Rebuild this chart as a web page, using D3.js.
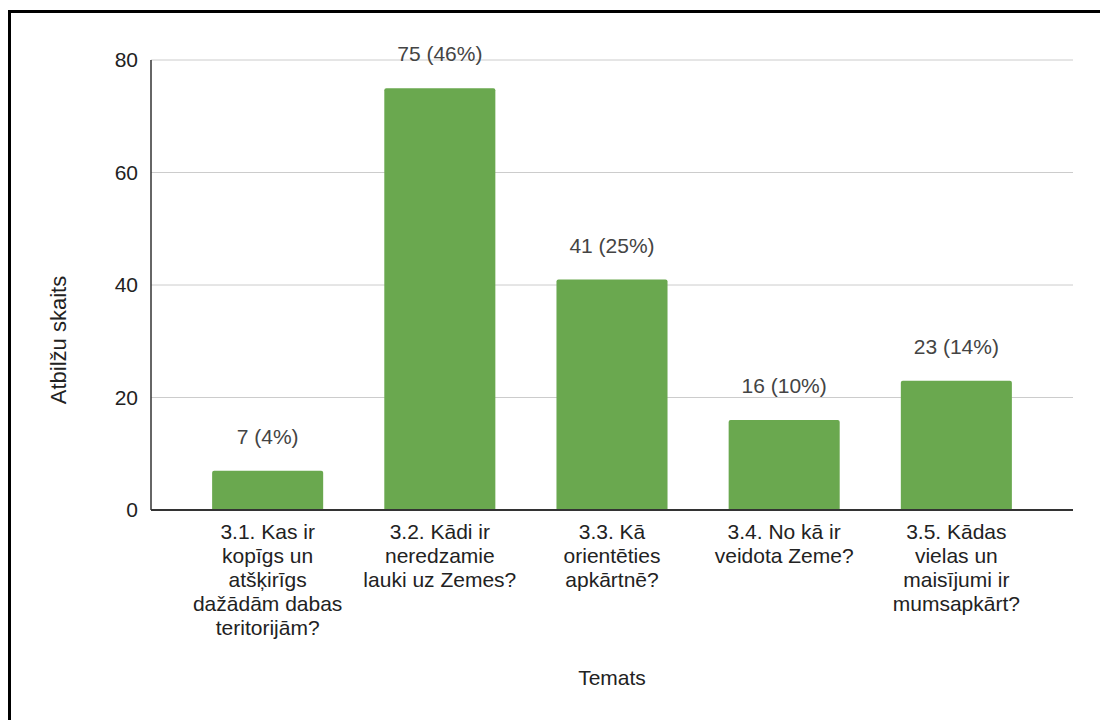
<!DOCTYPE html>
<html>
<head>
<meta charset="utf-8">
<script src="https://cdn.jsdelivr.net/npm/d3@7"></script>
<style>
  html, body { margin: 0; padding: 0; background: #fff; }
  svg { display: block; font-family: "Liberation Sans", Arial, sans-serif; }
</style>
</head>
<body>
<svg id="chart" width="1100" height="720"></svg>
<script>
// Topics (each entry is a list of wrapped lines)
const categories = [
  ["3.1. Kas ir", "kopīgs un", "atšķirīgs", "dažādām dabas", "teritorijām?"],
  ["3.2. Kādi ir", "neredzamie", "lauki uz Zemes?"],
  ["3.3. Kā", "orientēties", "apkārtnē?"],
  ["3.4. No kā ir", "veidota Zeme?"],
  ["3.5. Kādas", "vielas un", "maisījumi ir", "mumsapkārt?"]
];
const counts = [7, 75, 41, 16, 23];
const percents = [4, 46, 25, 10, 14];
const yTicks = [0, 20, 40, 60, 80];

(function () {
  const svg = d3.select("#chart");

  // outer frame
  svg.append("path")
    .attr("d", "M9.5,722 V11.5 H1102")
    .attr("fill", "none").attr("stroke", "#000").attr("stroke-width", 3);

  const plotLeft = 151, plotRight = 1073, plotTop = 60, plotBottom = 510;
  const fs = 21;

  const x = d3.scaleBand()
    .domain(d3.range(categories.length))
    .range([plotLeft, plotRight])
    .padding(0.355);

  const y = d3.scaleLinear().domain([0, 80]).range([plotBottom, plotTop]);

  // gridlines
  svg.append("g").selectAll("line")
    .data(yTicks.filter(t => t !== 0))
    .join("line")
    .attr("x1", plotLeft).attr("x2", plotRight)
    .attr("y1", d => y(d)).attr("y2", d => y(d))
    .attr("stroke", "#ccc").attr("stroke-width", 1);

  // y tick labels
  svg.append("g").selectAll("text")
    .data(yTicks)
    .join("text")
    .attr("x", plotLeft - 13)
    .attr("y", d => y(d))
    .attr("dy", "0.35em")
    .attr("text-anchor", "end")
    .attr("font-size", fs)
    .attr("fill", "#222")
    .text(d => d);

  // bars with slightly rounded tops
  const r = 2;
  svg.append("g").selectAll("path")
    .data(counts)
    .join("path")
    .attr("fill", "#6aa84f")
    .attr("d", (d, i) => {
      const x0 = x(i), x1 = x(i) + x.bandwidth(), y0 = y(d), yb = y(0);
      return `M${x0},${yb} V${y0 + r} Q${x0},${y0} ${x0 + r},${y0} H${x1 - r} Q${x1},${y0} ${x1},${y0 + r} V${yb} Z`;
    });

  // value labels
  svg.append("g").selectAll("text")
    .data(counts)
    .join("text")
    .attr("x", (d, i) => x(i) + x.bandwidth() / 2)
    .attr("y", d => y(d) - 34)
    .attr("dy", "0.35em")
    .attr("text-anchor", "middle")
    .attr("font-size", fs)
    .attr("fill", "#444")
    .text((d, i) => `${d} (${percents[i]}%)`);

  // axis lines
  svg.append("line")
    .attr("x1", plotLeft).attr("x2", plotLeft)
    .attr("y1", plotTop).attr("y2", plotBottom)
    .attr("stroke", "#333").attr("stroke-width", 1.5);
  svg.append("line")
    .attr("x1", plotLeft).attr("x2", plotRight)
    .attr("y1", plotBottom).attr("y2", plotBottom)
    .attr("stroke", "#333").attr("stroke-width", 2);

  // category labels
  const catG = svg.append("g").selectAll("text")
    .data(categories)
    .join("text")
    .attr("text-anchor", "middle")
    .attr("font-size", fs)
    .attr("fill", "#222");
  catG.selectAll("tspan")
    .data((lines, i) => lines.map(l => ({ l, i })))
    .join("tspan")
    .attr("x", d => x(d.i) + x.bandwidth() / 2)
    .attr("y", (d, j) => 532 + j * 24)
    .attr("dy", "0.35em")
    .text(d => d.l);

  // axis titles
  svg.append("text")
    .attr("x", 612).attr("y", 678)
    .attr("dy", "0.35em")
    .attr("text-anchor", "middle")
    .attr("font-size", fs)
    .attr("fill", "#222")
    .text("Temats");

  svg.append("text")
    .attr("transform", "translate(58,340) rotate(-90)")
    .attr("dy", "0.35em")
    .attr("text-anchor", "middle")
    .attr("font-size", 22)
    .attr("fill", "#222")
    .text("Atbilžu skaits");
})();
</script>
</body>
</html>
